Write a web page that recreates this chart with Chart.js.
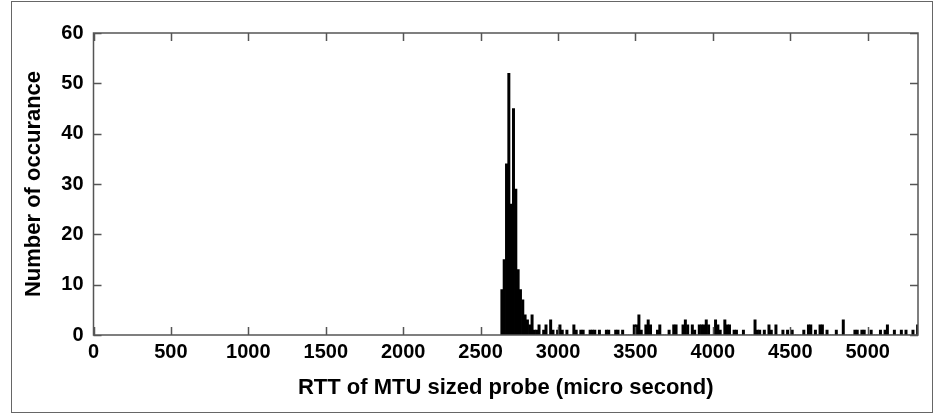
<!DOCTYPE html>
<html>
<head>
<meta charset="utf-8">
<script src="https://cdn.jsdelivr.net/npm/chart.js@4"></script>
<style>
  html, body { margin: 0; padding: 0; background: #fff; }
  #wrap { position: relative; width: 936px; height: 416px; }
  #frame { position: absolute; left: 11px; top: 1px; width: 922px; height: 412px; border: 1.5px solid #666; box-sizing: border-box; pointer-events: none; }
</style>
</head>
<body>
<div id="wrap">
  <canvas id="rttHist" width="936" height="416"></canvas>
  <div id="frame"></div>
</div>
<script>
// RTT histogram: 15 us bins starting at 2630 us
var binStart = 2630;
var binWidth = 15;
var counts = [
    9, 15, 34, 52, 26, 45, 29, 13, 9, 7,
    4, 3, 2, 4, 1, 1, 2, 0, 1, 2,
    0, 3, 1, 0, 1, 2, 1, 0, 1, 0,
    0, 2, 1, 0, 1, 1, 0, 0, 1, 1,
    1, 0, 1, 0, 0, 1, 1, 0, 0, 1,
    1, 0, 1, 0, 0, 0, 0, 2, 2, 4,
    1, 0, 2, 3, 2, 0, 0, 1, 2, 0,
    0, 0, 1, 0, 2, 2, 0, 0, 2, 3,
    2, 0, 2, 1, 0, 2, 2, 2, 3, 2,
    0, 0, 3, 2, 1, 0, 3, 2, 2, 0,
    1, 1, 0, 0, 1, 0, 0, 0, 0, 3,
    1, 1, 0, 1, 0, 2, 1, 0, 2, 0,
    0, 1, 0, 1, 0, 1, 0, 0, 0, 0,
    1, 0, 2, 2, 0, 1, 0, 2, 2, 0,
    1, 0, 0, 0, 1, 0, 0, 3, 0, 0,
    0, 0, 1, 1, 0, 1, 1, 0, 0, 1,
    0, 0, 0, 1, 0, 1, 2, 0, 0, 1,
    0, 0, 1, 0, 1, 0, 0, 1, 0, 2
];
var xTicks = [0, 500, 1000, 1500, 2000, 2500, 3000, 3500, 4000, 4500, 5000];
var yTicks = [0, 10, 20, 30, 40, 50, 60];
var xMax = 5325;

var points = counts.map(function (c, i) {
    return { x: binStart + (i + 0.5) * binWidth, y: c };
});

// MATLAB style: box around plot, ticks pointing inward on all sides
var boxTicks = {
    id: 'boxTicks',
    afterDatasetsDraw: function (chart) {
        var ctx = chart.ctx, a = chart.chartArea;
        var sx = chart.scales.x, sy = chart.scales.y;
        ctx.save();
        ctx.strokeStyle = '#555';
        ctx.lineWidth = 1.5;
        ctx.beginPath();
        sx.ticks.forEach(function (t) {
            var px = Math.round(sx.getPixelForValue(t.value)) + 0.5;
            ctx.moveTo(px, a.bottom); ctx.lineTo(px, a.bottom - 8);
            ctx.moveTo(px, a.top); ctx.lineTo(px, a.top + 8);
        });
        sy.ticks.forEach(function (t) {
            var py = Math.round(sy.getPixelForValue(t.value)) + 0.5;
            ctx.moveTo(a.left, py); ctx.lineTo(a.left + 8, py);
            ctx.moveTo(a.right, py); ctx.lineTo(a.right - 8, py);
        });
        ctx.rect(a.left, a.top, a.right - a.left, a.bottom - a.top);
        ctx.stroke();
        ctx.restore();
    }
};

var plainLabel = function (v) { return String(v); };

new Chart(document.getElementById('rttHist'), {
    type: 'bar',
    data: {
        datasets: [{
            data: points,
            backgroundColor: '#000', borderWidth: 0,
            barPercentage: 1, categoryPercentage: 1
        }]
    },
    options: {
        responsive: false, animation: false,
        layout: { padding: { left: 0, top: 33, right: 18, bottom: 0 } },
        plugins: { legend: { display: false }, tooltip: { enabled: false } },
        scales: {
            x: {
                type: 'linear', min: 0, max: xMax, offset: false,
                afterBuildTicks: function (s) { s.ticks = xTicks.map(function (v) { return { value: v }; }); },
                afterFit: function (s) { s.height = 81; },
                grid: { display: false, drawTicks: false },
                border: { display: false },
                ticks: { color: '#000', padding: 5, maxRotation: 0, callback: plainLabel,
                         font: { family: 'Liberation Sans', size: 20, weight: 'bold' } },
                title: {
                    display: true, text: 'RTT of MTU sized probe (micro second)', color: '#000',
                    padding: { top: 0, bottom: 15 },
                    font: { family: 'Liberation Sans', size: 22, weight: 'bold' }
                }
            },
            y: {
                min: 0, max: 60,
                afterBuildTicks: function (s) { s.ticks = yTicks.map(function (v) { return { value: v }; }); },
                afterFit: function (s) { s.width = 93.5; },
                grid: { display: false, drawTicks: false },
                border: { display: false },
                ticks: { color: '#000', padding: 10, callback: plainLabel,
                         font: { family: 'Liberation Sans', size: 20, weight: 'bold' } },
                title: {
                    display: true, text: 'Number of occurance', color: '#000',
                    padding: { top: 21, bottom: 0 },
                    font: { family: 'Liberation Sans', size: 22, weight: 'bold' }
                }
            }
        }
    },
    plugins: [boxTicks]
});
</script>
</body>
</html>
